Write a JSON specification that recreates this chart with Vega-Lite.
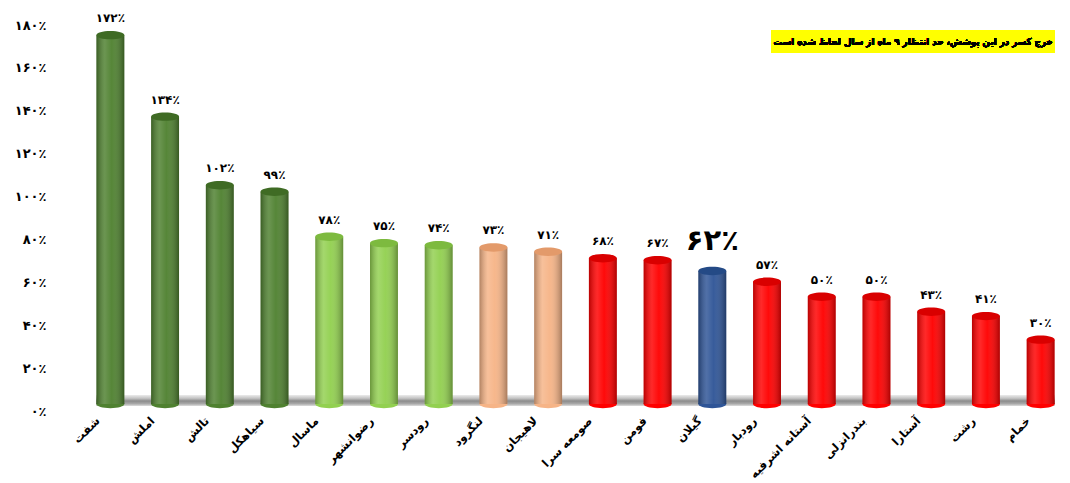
{
  "$schema": "https://vega.github.io/schema/vega-lite/v6.json",
  "width": 985,
  "height": 386,
  "autosize": {"type": "none"},
  "padding": {"left": 83, "top": 18, "right": 2, "bottom": 79},
  "background": "white",
  "config": {"view": {"stroke": null}, "font": "DejaVu Sans"},
  "data": {
    "values": [
      {"city": "شفت", "pct": 172, "tier": "t1"},
      {"city": "املش", "pct": 134, "tier": "t1"},
      {"city": "تالش", "pct": 102, "tier": "t1"},
      {"city": "سیاهکل", "pct": 99, "tier": "t1"},
      {"city": "ماسال", "pct": 78, "tier": "t2"},
      {"city": "رضوانشهر", "pct": 75, "tier": "t2"},
      {"city": "رودسر", "pct": 74, "tier": "t2"},
      {"city": "لنگرود", "pct": 73, "tier": "t3"},
      {"city": "لاهیجان", "pct": 71, "tier": "t3"},
      {"city": "صومعه سرا", "pct": 68, "tier": "t4"},
      {"city": "فومن", "pct": 67, "tier": "t4"},
      {"city": "گیلان", "pct": 62, "tier": "province"},
      {"city": "رودبار", "pct": 57, "tier": "t4"},
      {"city": "آستانه اشرفیه", "pct": 50, "tier": "t4"},
      {"city": "بندرانزلی", "pct": 50, "tier": "t4"},
      {"city": "آستارا", "pct": 43, "tier": "t4"},
      {"city": "رشت", "pct": 41, "tier": "t4"},
      {"city": "خمام", "pct": 30, "tier": "t4"}
    ]
  },
  "transform": [
    {
      "calculate": "replace(replace(replace(replace(replace(replace(replace(replace(replace(replace(toString(datum.pct),/0/g,'۰'),/1/g,'۱'),/2/g,'۲'),/3/g,'۳'),/4/g,'۴'),/5/g,'۵'),/6/g,'۶'),/7/g,'۷'),/8/g,'۸'),/9/g,'۹') + '٪'",
      "as": "label"
    }
  ],
  "encoding": {
    "x": {
      "field": "city",
      "type": "nominal",
      "sort": null,
      "title": null,
      "scale": {
        "domain": ["شفت", "املش", "تالش", "سیاهکل", "ماسال", "رضوانشهر", "رودسر", "لنگرود", "لاهیجان", "صومعه سرا", "فومن", "گیلان", "رودبار", "آستانه اشرفیه", "بندرانزلی", "آستارا", "رشت", "خمام"],
        "paddingInner": 0.49,
        "paddingOuter": 0.245
      },
      "axis": {
        "domain": false,
        "ticks": false,
        "grid": false,
        "labelAngle": -45,
        "labelAlign": "right",
        "labelBaseline": "middle",
        "labelPadding": 15,
        "labelOffset": -12,
        "labelFont": "DejaVu Sans",
        "labelFontSize": 11.5,
        "labelFontWeight": "bold",
        "labelColor": "#000000"
      }
    },
    "y": {
      "field": "pct",
      "type": "quantitative",
      "title": null,
      "scale": {"domain": [0, 180], "nice": false},
      "axis": {
        "values": [0, 20, 40, 60, 80, 100, 120, 140, 160, 180],
        "domain": false,
        "ticks": false,
        "grid": false,
        "labelPadding": 37,
        "labelOffset": 7,
        "labelFont": "DejaVu Sans",
        "labelFontSize": 13,
        "labelFontWeight": "bold",
        "labelColor": "#000000",
        "labelExpr": "replace(replace(replace(replace(replace(replace(replace(replace(replace(replace(toString(datum.value),/0/g,'۰'),/1/g,'۱'),/2/g,'۲'),/3/g,'۳'),/4/g,'۴'),/5/g,'۵'),/6/g,'۶'),/7/g,'۷'),/8/g,'۸'),/9/g,'۹') + '٪'"
      }
    }
  },
  "layer": [
    {
      "mark": {
        "type": "rect",
        "color": {
          "gradient": "linear",
          "x1": 0, "y1": 0, "x2": 0, "y2": 1,
          "stops": [
            {"offset": 0, "color": "#ececec"},
            {"offset": 0.3, "color": "#c4c4c4"},
            {"offset": 0.55, "color": "#8c8c8c"},
            {"offset": 0.8, "color": "#a9a9a9"},
            {"offset": 1, "color": "#dcdcdc"}
          ]
        }
      },
      "encoding": {
        "x": {"datum": "شفت", "bandPosition": 0, "title": null},
        "x2": {"datum": "خمام", "bandPosition": 1},
        "y": {"datum": 4.2, "title": null},
        "y2": {"datum": -0.9}
      }
    },
    {
      "mark": {"type": "bar"},
      "encoding": {
        "color": {
          "field": "tier",
          "type": "nominal",
          "legend": null,
          "scale": {
            "domain": ["t1", "t2", "t3", "t4", "province"],
            "range": ["#4f8130", "#92d050", "#f6b487", "#ff0000", "#2f5597"]
          }
        }
      }
    },
    {
      "mark": {
        "type": "point",
        "filled": true,
        "opacity": 1,
        "size": 784,
        "shape": "M -1 0 A 1 0.3 0 1 0 1 0 A 1 0.3 0 1 0 -1 0 Z"
      },
      "encoding": {
        "y": {"datum": 0, "title": null},
        "color": {"field": "tier", "type": "nominal", "legend": null}
      }
    },
    {
      "mark": {
        "type": "bar",
        "color": {
          "gradient": "linear",
          "x1": 0, "y1": 0, "x2": 1, "y2": 0,
          "stops": [
            {"offset": 0, "color": "rgba(0,0,0,0.28)"},
            {"offset": 0.3, "color": "rgba(255,255,255,0.16)"},
            {"offset": 0.55, "color": "rgba(255,255,255,0.04)"},
            {"offset": 1, "color": "rgba(0,0,0,0.32)"}
          ]
        }
      }
    },
    {
      "mark": {
        "type": "point",
        "filled": true,
        "opacity": 1,
        "size": 784,
        "strokeWidth": 0,
        "shape": "M -1 0 A 1 0.3 0 1 0 1 0 A 1 0.3 0 1 0 -1 0 Z"
      },
      "encoding": {
        "fill": {
          "field": "tier",
          "type": "nominal",
          "legend": null,
          "scale": {
            "domain": ["t1", "t2", "t3", "t4", "province"],
            "range": ["#3f6b24", "#7dba3f", "#e39a6a", "#d90000", "#244a86"]
          }
        }
      }
    },
    {
      "transform": [{"filter": "datum.tier !== 'province'"}],
      "mark": {"type": "text", "baseline": "bottom", "dy": -10, "fontSize": 12, "fontWeight": "bold", "font": "DejaVu Sans", "color": "#000000"},
      "encoding": {
        "text": {"field": "label"}
      }
    },
    {
      "transform": [{"filter": "datum.tier === 'province'"}],
      "mark": {"type": "text", "baseline": "bottom", "dy": -15, "fontSize": 29, "fontWeight": "bold", "font": "DejaVu Sans", "color": "#000000"},
      "encoding": {
        "text": {"field": "label"}
      }
    },
    {
      "mark": {"type": "rect", "color": "#ffff00"},
      "encoding": {
        "x": {"datum": "رودبار", "bandPosition": 0.65, "title": null},
        "x2": {"datum": "خمام", "bandPosition": 1},
        "y": {"datum": 174.1, "title": null},
        "y2": {"datum": 163.9}
      }
    },
    {
      "mark": {"type": "text", "align": "right", "baseline": "middle", "dx": -2, "fontWeight": "bold", "fontSize": 9.7, "font": "DejaVu Sans Condensed", "color": "#000000"},
      "encoding": {
        "x": {"datum": "خمام", "bandPosition": 1, "title": null},
        "y": {"datum": 169, "title": null},
        "text": {"value": "خرج کسر  در این پوشش، حد انتظار ۹ ماه از سال لحاظ شده است"}
      }
    }
  ]
}
